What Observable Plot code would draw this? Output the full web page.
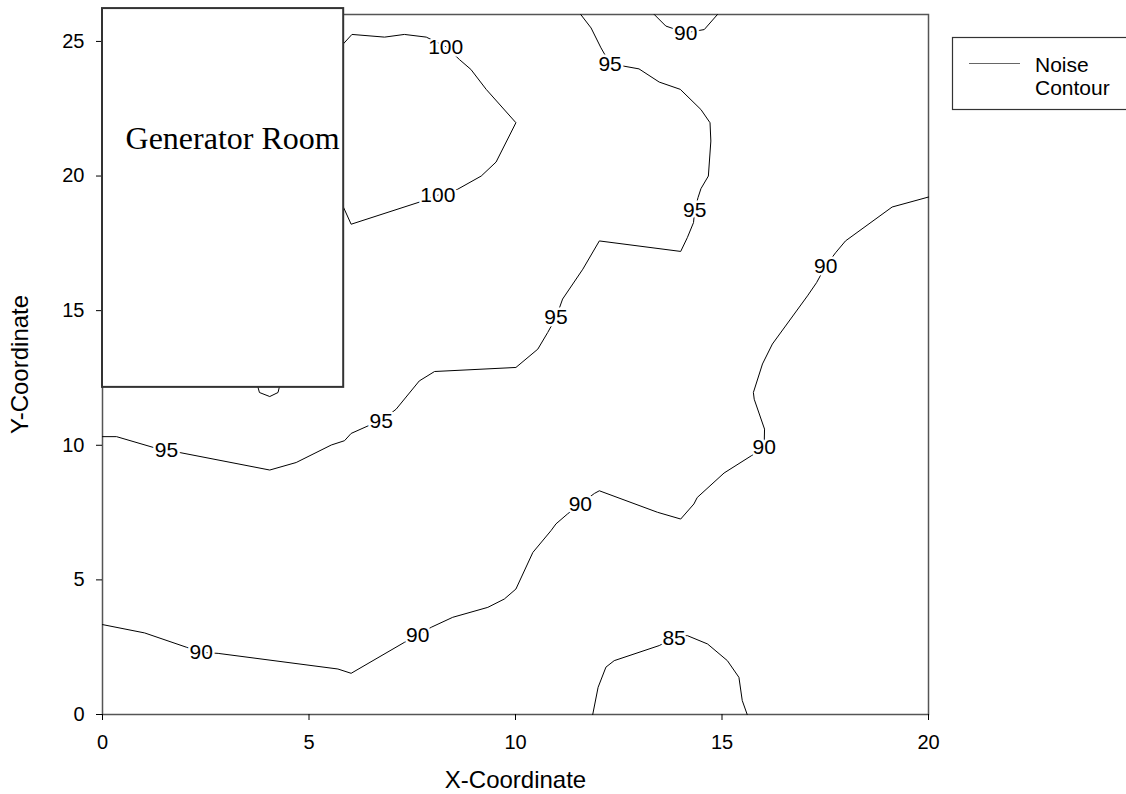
<!DOCTYPE html>
<html>
<head>
<meta charset="utf-8">
<script src="https://cdn.jsdelivr.net/npm/d3@7"></script>
<script src="https://cdn.jsdelivr.net/npm/@observablehq/plot@0.6"></script>
<style>
  html, body { margin: 0; padding: 0; background: #fff; }
  #chart svg { display: block; }
</style>
</head>
<body>
<div id="chart"></div>
<script>
// ---- data ----
const xTicks = [0, 5, 10, 15, 20];
const yTicks = [0, 5, 10, 15, 20, 25];

const contour100 = [[5.7, 24.7], [5.82, 24.89], [6.04, 25.26], [6.83, 25.16], [7.31, 25.26], [7.84, 25.16], [8.32, 24.8], [8.64, 24.33], [8.92, 23.96], [9.29, 23.22], [10.01, 21.98], [9.53, 20.52], [9.17, 20.0], [8.60, 19.51], [8.12, 19.29], [7.67, 19.03], [6.02, 18.21], [5.82, 18.89], [5.7, 19.1]];

const contour95 = [[11.58, 26.0], [11.83, 25.50], [12.07, 24.76], [12.29, 24.17], [12.63, 24.08], [12.99, 23.98], [13.48, 23.49], [13.99, 23.22], [14.49, 22.47], [14.71, 21.98], [14.73, 21.30], [14.67, 20.0], [14.49, 19.53], [14.42, 19.20], [14.34, 18.73], [14.31, 18.27], [14.16, 17.71], [14.00, 17.20], [12.03, 17.59], [11.63, 16.54], [11.14, 15.43], [10.98, 14.74], [10.78, 14.19], [10.54, 13.57], [10.01, 12.89], [8.04, 12.74], [7.67, 12.39], [7.11, 11.34], [6.75, 10.91], [6.43, 10.72], [6.02, 10.44], [5.86, 10.17], [5.54, 10.01], [4.69, 9.36], [4.05, 9.08], [1.87, 9.73], [1.55, 9.80], [1.23, 9.92], [0.34, 10.32], [0.0, 10.32]];

const contour95small = [[3.72, 12.4], [3.80, 11.96], [4.05, 11.81], [4.25, 11.96], [4.32, 12.4]];

const contour90top = [[13.36, 26.0], [13.64, 25.57], [14.12, 25.32], [14.57, 25.44], [14.89, 26.0]];

const contour90 = [[20.0, 19.22], [19.12, 18.85], [17.99, 17.59], [17.75, 17.15], [17.51, 16.66], [17.29, 16.04], [17.07, 15.55], [16.22, 13.76], [15.98, 13.02], [15.76, 11.96], [15.78, 11.71], [16.03, 10.60], [16.02, 9.92], [15.71, 9.61], [15.05, 8.97], [14.40, 8.06], [14.32, 7.82], [14.0, 7.26], [13.44, 7.51], [12.03, 8.31], [11.91, 8.21], [11.57, 7.82], [11.26, 7.45], [10.98, 7.08], [10.86, 6.83], [10.42, 6.02], [10.01, 4.66], [9.73, 4.29], [9.33, 3.98], [8.48, 3.61], [7.96, 3.24], [7.63, 2.93], [7.31, 2.68], [6.02, 1.53], [5.70, 1.69], [2.80, 2.27], [2.39, 2.31], [2.03, 2.50], [1.02, 3.03], [0.0, 3.34]];

const contour85 = [[11.87, 0.0], [12.0, 1.01], [12.19, 1.76], [12.39, 2.0], [13.48, 2.56], [13.84, 2.85], [14.16, 2.93], [14.65, 2.62], [15.13, 2.0], [15.41, 1.38], [15.49, 0.52], [15.61, 0.0]];

const labelLevels = [100, 100, 95, 95, 95, 95, 95, 90, 90, 90, 90, 90, 90, 85];
const labelX = [8.31, 8.12, 12.29, 14.34, 10.98, 6.75, 1.55, 14.12, 17.51, 16.02, 11.57, 7.63, 2.39, 13.84];
const labelY = [24.79, 19.29, 24.17, 18.73, 14.74, 10.91, 9.80, 25.32, 16.66, 9.92, 7.82, 2.93, 2.31, 2.85];

const rooms = [{name: "Generator Room", x1: 0, x2: 5.84, y1: 12.15, y2: 26.22, labelX: 3.15, labelY: 21.37}];
const legendLabel = ["Noise", "Contour"];

// ---- build tables ----
const contours = [
  {id: "c100", level: 100, pts: contour100},
  {id: "c95", level: 95, pts: contour95},
  {id: "c95s", level: 95, pts: contour95small},
  {id: "c90t", level: 90, pts: contour90top},
  {id: "c90", level: 90, pts: contour90},
  {id: "c85", level: 85, pts: contour85}
];
const lineData = contours.flatMap(c => c.pts.map(([x, y]) => ({id: c.id, level: c.level, x, y})));
const labels = labelLevels.map((v, i) => ({level: v, x: labelX[i], y: labelY[i]}));

const sans = "'Liberation Sans', Arial, Helvetica, sans-serif";

const chart = Plot.plot({
  width: 1126,
  height: 794,
  marginLeft: 102,
  marginRight: 198,
  marginTop: 14,
  marginBottom: 80,
  style: {fontFamily: sans, background: "white", color: "black"},
  x: {domain: [0, 20]},
  y: {domain: [0, 26]},
  marks: [
    Plot.frame({stroke: "#555", strokeWidth: 1.5}),
    Plot.axisX({ticks: xTicks, tickSize: 6, tickPadding: 14, fontSize: 20, label: null, tickFormat: d => String(d)}),
    Plot.axisY({ticks: yTicks, tickSize: 6, tickPadding: 12, fontSize: 20, label: null, tickFormat: d => String(d)}),
    Plot.line(lineData, {x: "x", y: "y", z: "id", stroke: "black", strokeWidth: 1, curve: "linear"}),
    Plot.text(labels, {x: "x", y: "y", text: d => String(d.level), fontSize: 21, fill: "black", stroke: "white", strokeWidth: 5, paintOrder: "stroke"}),
    Plot.rect(rooms, {x1: "x1", x2: "x2", y1: "y1", y2: "y2", fill: "white", stroke: "#333", strokeWidth: 2}),
    Plot.text(rooms, {x: "labelX", y: "labelY", text: "name", fontFamily: "'Liberation Serif', 'Times New Roman', serif", fontSize: 32, fill: "black"}),
    Plot.text(["X-Coordinate"], {frameAnchor: "bottom", dy: 66, textAnchor: "middle", lineAnchor: "middle", text: d => d, fontSize: 24, fill: "black"}),
    Plot.text(["Y-Coordinate"], {frameAnchor: "left", dx: -82, rotate: -90, textAnchor: "middle", lineAnchor: "middle", text: d => d, fontSize: 24, fill: "black"})
  ]
});

document.getElementById("chart").appendChild(chart);

// ---- legend (outside plot area) ----
const svg = d3.select(chart);
const lg = svg.append("g").attr("font-family", sans).attr("font-size", 21).attr("text-anchor", "start");
lg.append("rect").attr("x", 952.5).attr("y", 37.5).attr("width", 200).attr("height", 72)
  .attr("fill", "white").attr("stroke", "#333").attr("stroke-width", 1.2);
lg.append("line").attr("x1", 969).attr("x2", 1020).attr("y1", 63.5).attr("y2", 63.5)
  .attr("stroke", "#666").attr("stroke-width", 1.2);
lg.selectAll("text.lbl").data(legendLabel).join("text")
  .attr("class", "lbl")
  .attr("x", 1035)
  .attr("y", (d, i) => 71.5 + i * 23.3)
  .attr("fill", "black")
  .text(d => d);
</script>
</body>
</html>
